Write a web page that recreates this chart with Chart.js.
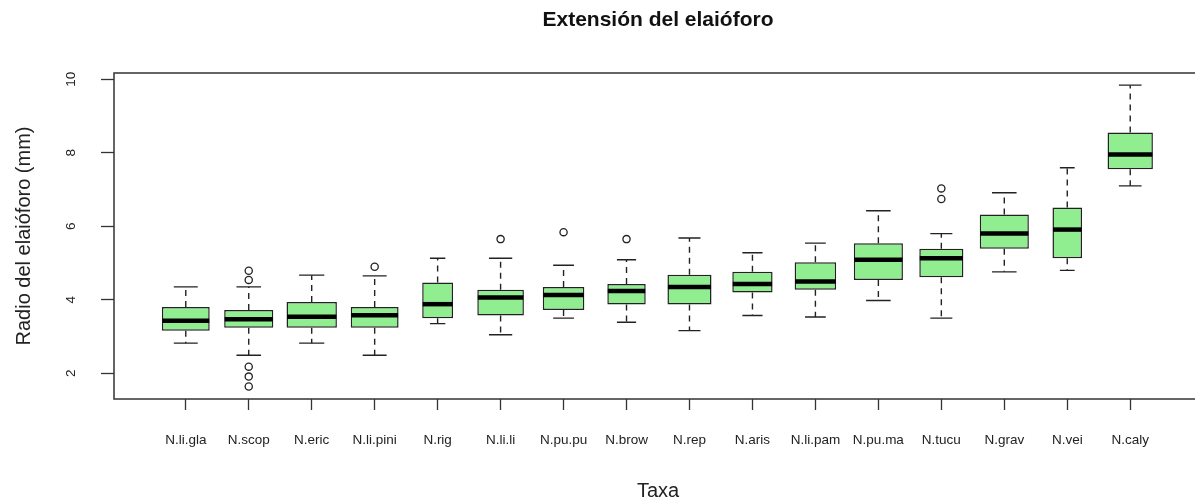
<!DOCTYPE html>
<html>
<head>
<meta charset="utf-8">
<script src="https://cdn.jsdelivr.net/npm/chart.js@4/dist/chart.umd.min.js"></script>
<style>
  html, body { margin: 0; padding: 0; background: #fff; overflow: hidden; }
  #wrap { width: 1209px; height: 504px; position: relative; }
</style>
</head>
<body>
<div id="wrap"><canvas id="c"></canvas></div>
<script>
// ---- data ----
const categories = ['N.li.gla','N.scop','N.eric','N.li.pini','N.rig','N.li.li','N.pu.pu','N.brow','N.rep','N.aris','N.li.pam','N.pu.ma','N.tucu','N.grav','N.vei','N.caly'];
const lowerWhisker = [2.82,2.49,2.82,2.49,3.35,3.05,3.50,3.39,3.16,3.57,3.53,3.98,3.50,4.76,4.80,7.10];
const q1           = [3.16,3.24,3.24,3.24,3.50,3.57,3.72,3.87,3.87,4.20,4.27,4.54,4.61,5.39,5.13,7.55];
const median       = [3.43,3.47,3.54,3.58,3.88,4.06,4.13,4.24,4.35,4.43,4.50,5.09,5.13,5.80,5.91,7.95];
const q3           = [3.80,3.72,3.94,3.80,4.47,4.27,4.35,4.43,4.68,4.76,5.02,5.54,5.39,6.32,6.51,8.55];
const upperWhisker = [4.35,4.35,4.67,4.65,5.13,5.13,4.94,5.09,5.68,5.28,5.54,6.42,5.80,6.91,7.59,9.84];
const outliers = [[],[4.79,4.54,2.18,1.91,1.64],[],[4.90],[],[5.65],[5.84],[5.65],[],[],[],[],[7.03,6.74],[],[],[]];
const yTicks = [2,4,6,8,10];

// ---- styles ----
const boxWidths = [0.76,0.78,0.80,0.76,0.49,0.74,0.66,0.61,0.70,0.64,0.66,0.78,0.70,0.78,0.47,0.72];
const FONT = "'Liberation Sans', Arial, sans-serif";
const boxFill = '#90EE90';
const ink = '#222';

const boxDatasets = categories.map((c, i) => ({
  type: 'bar',
  label: c,
  data: [{ x: i, y: [q1[i], q3[i]] }],
  backgroundColor: boxFill,
  borderColor: ink,
  borderWidth: 1.5,
  borderSkipped: false,
  grouped: false,
  categoryPercentage: 1,
  barPercentage: boxWidths[i]
}));

const outlierPoints = [];
outliers.forEach((arr, i) => arr.forEach(v => outlierPoints.push({ x: i, y: v })));

const boxExtras = {
  id: 'boxExtras',
  afterDatasetsDraw(chart) {
    const ctx = chart.ctx;
    const ys = chart.scales.y;
    ctx.save();
    categories.forEach((c, i) => {
      const bar = chart.getDatasetMeta(i).data[0];
      const { x, width } = bar.getProps(['x', 'width'], true);
      const yq1 = ys.getPixelForValue(q1[i]);
      const yq3 = ys.getPixelForValue(q3[i]);
      const ylo = ys.getPixelForValue(lowerWhisker[i]);
      const yhi = ys.getPixelForValue(upperWhisker[i]);
      const ymed = ys.getPixelForValue(median[i]);
      // whiskers (dashed)
      ctx.strokeStyle = ink;
      ctx.lineWidth = 1.4;
      ctx.setLineDash([6, 5]);
      ctx.beginPath();
      ctx.moveTo(x, yq3); ctx.lineTo(x, yhi);
      ctx.moveTo(x, yq1); ctx.lineTo(x, ylo);
      ctx.stroke();
      // staples
      ctx.setLineDash([]);
      ctx.beginPath();
      ctx.moveTo(x - width / 4, yhi); ctx.lineTo(x + width / 4, yhi);
      ctx.moveTo(x - width / 4, ylo); ctx.lineTo(x + width / 4, ylo);
      ctx.stroke();
      // median
      ctx.strokeStyle = '#000';
      ctx.lineWidth = 4.5;
      ctx.lineCap = 'butt';
      ctx.beginPath();
      ctx.moveTo(x - width / 2 + 0.5, ymed); ctx.lineTo(x + width / 2 - 0.5, ymed);
      ctx.stroke();
    });
    ctx.restore();
  },
  afterDraw(chart) {
    const { left, top, right, bottom } = chart.chartArea;
    const ctx = chart.ctx;
    ctx.save();
    ctx.strokeStyle = '#333';
    ctx.lineWidth = 1.5;
    ctx.strokeRect(left, top, right - left, bottom - top);
    ctx.restore();
  }
};

new Chart(document.getElementById('c'), {
  type: 'bar',
  data: {
    datasets: [
      ...boxDatasets,
      {
        type: 'line',
        label: 'outliers',
        data: outlierPoints,
        showLine: false,
        pointStyle: 'circle',
        pointRadius: 3.6,
        pointBorderWidth: 1.3,
        pointBorderColor: ink,
        pointBackgroundColor: 'rgba(0,0,0,0)'
      }
    ]
  },
  options: {
    responsive: true,
    maintainAspectRatio: false,
    animation: false,
    devicePixelRatio: 1,
    layout: { padding: { left: 0, right: 7, top: 0, bottom: 0 } },
    plugins: {
      legend: { display: false },
      tooltip: { enabled: false },
      title: {
        display: true,
        text: 'Extensión del elaióforo',
        fullSize: false,
        color: '#111',
        font: { family: FONT, size: 21, weight: 'bold' },
        padding: { top: 8, bottom: 39.8 }
      }
    },
    scales: {
      x: {
        type: 'linear',
        min: -1.14,
        max: 16.14,
        offset: false,
        afterBuildTicks: (s) => { s.ticks = categories.map((c, i) => ({ value: i })); },
        afterFit: (s) => { s.height = 105; },
        grid: { offset: false, drawOnChartArea: false, drawTicks: true, tickLength: 11, tickColor: '#333', tickWidth: 1.3 },
        border: { display: false },
        ticks: {
          autoSkip: false, maxRotation: 0, minRotation: 0,
          padding: 22,
          color: '#222',
          font: { family: FONT, size: 13.5 },
          callback: (v) => categories[v]
        },
        title: {
          display: true, text: 'Taxa', color: '#222',
          font: { family: FONT, size: 20 },
          padding: { top: 0, bottom: 1 }
        }
      },
      y: {
        type: 'linear',
        min: 1.30,
        max: 10.17,
        afterBuildTicks: (s) => { s.ticks = yTicks.map(v => ({ value: v })); },
        afterFit: (s) => { s.width = 114; },
        grid: { drawOnChartArea: false, drawTicks: true, tickLength: 13, tickColor: '#333', tickWidth: 1.3 },
        border: { display: false },
        ticks: {
          minRotation: 90, maxRotation: 90,
          crossAlign: 'center',
          padding: 22,
          color: '#222',
          font: { family: FONT, size: 13.5 },
          callback: (v) => String(v)
        },
        title: {
          display: true, text: 'Radio del elaióforo (mm)', color: '#222',
          font: { family: FONT, size: 20 },
          padding: { top: 12, bottom: 0 }
        }
      }
    }
  },
  plugins: [boxExtras]
});
</script>
</body>
</html>
